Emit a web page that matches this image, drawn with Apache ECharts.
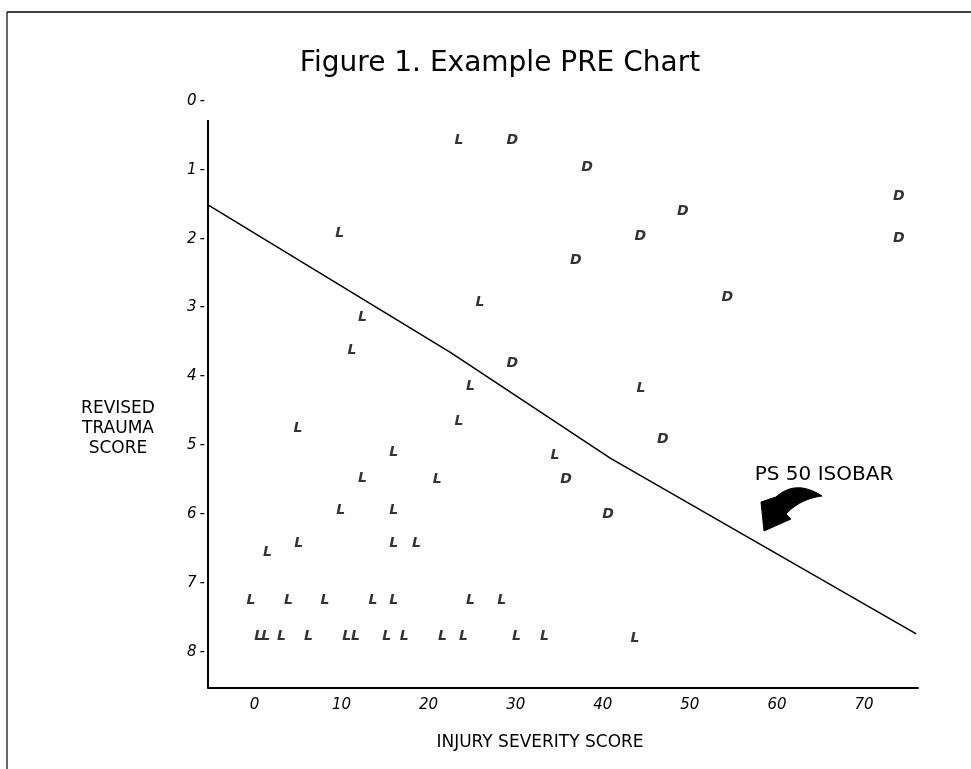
<!DOCTYPE html>
<html><head><meta charset="utf-8">
<script src="https://cdn.jsdelivr.net/npm/echarts@6/dist/echarts.min.js"></script>
<style>html,body{margin:0;padding:0;background:#fff}#c{width:971px;height:769px}</style>
</head><body><div id="c"></div>
<script>
// ---- data (Injury Severity Score = x, Revised Trauma Score = y) ----
const xTickValues = [0, 10, 20, 30, 40, 50, 60, 70];
const yTickValues = [0, 1, 2, 3, 4, 5, 6, 7, 8];

const livedISS = [23.5, 9.8, 25.9, 12.4, 11.2, 24.8, 44.4, 23.5, 5.0, 16.0, 34.5, 12.4, 21.0, 9.9, 16.0, 5.1, 1.5, 16.0, 18.6,
  -0.4, 3.9, 8.1, 13.6, 16.0, 24.8, 28.4,
  0.5, 1.3, 3.1, 6.2, 10.6, 11.6, 15.2, 17.2, 21.6, 24.0, 30.1, 33.3, 43.7];
const livedRTS = [0.57, 1.92, 2.92, 3.14, 3.62, 4.15, 4.17, 4.65, 4.75, 5.11, 5.14, 5.48, 5.49, 5.94, 5.94, 6.42, 6.55, 6.43, 6.43,
  7.25, 7.25, 7.25, 7.25, 7.25, 7.25, 7.25,
  7.78, 7.78, 7.78, 7.78, 7.78, 7.78, 7.78, 7.78, 7.78, 7.78, 7.78, 7.78, 7.80];

const diedISS = [29.6, 38.2, 74.0, 49.2, 44.3, 74.0, 36.9, 54.3, 29.6, 46.9, 35.8, 40.6];
const diedRTS = [0.57, 0.96, 1.39, 1.60, 1.96, 1.99, 2.32, 2.85, 3.81, 4.92, 5.50, 6.00];

const isobarISS = [-5.33, 22.5, 40.9, 76.0];
const isobarRTS = [1.51, 3.65, 5.19, 7.74];

const xMin = -5.33, xMax = 76.2, yMin = 0, yMax = 8.526, yLineTop = 0.276;

// ---- chart ----
const FONT = 'DejaVu Sans';
const INK = '#000000';
const pairs = (xs, ys) => xs.map((x, i) => [x, ys[i]]);
const letterLabel = (ch) => ({
  show: true, position: 'inside', formatter: ch,
  fontFamily: FONT, fontStyle: 'italic', fontWeight: 'bold', fontSize: 14, color: INK
});

const chart = echarts.init(document.getElementById('c'), null, {renderer: 'canvas'});
const option = {
  animation: false,
  backgroundColor: '#ffffff',
  title: [
    {text: 'Figure 1. Example PRE Chart', left: 495, top: 45, textAlign: 'center',
     textStyle: {fontFamily: FONT, fontSize: 28, fontWeight: 'normal', color: INK}},
    {text: 'REVISED\nTRAUMA\nSCORE', left: 113, top: 394, textAlign: 'center',
     textStyle: {fontFamily: FONT, fontSize: 17, lineHeight: 20, fontWeight: 'normal', color: INK}}
  ],
  grid: {left: 208, right: 53, top: 101, bottom: 81, containLabel: false},
  xAxis: {
    type: 'value', min: xMin, max: xMax, position: 'bottom',
    name: 'INJURY SEVERITY SCORE', nameLocation: 'middle', nameGap: 46,
    nameTextStyle: {fontFamily: FONT, fontSize: 17, color: INK, padding: [0, 46, 0, 0]},
    axisLine: {show: true, onZero: false, lineStyle: {color: INK, width: 2}},
    axisTick: {show: false},
    splitLine: {show: false},
    axisLabel: {customValues: xTickValues, margin: 10, fontFamily: FONT, fontStyle: 'italic', fontSize: 15, color: INK}
  },
  yAxis: {
    type: 'value', min: yMin, max: yMax, inverse: true,
    axisLine: {show: false},
    axisTick: {show: false},
    splitLine: {show: false},
    axisLabel: {customValues: yTickValues, margin: 3, fontFamily: FONT, fontStyle: 'italic', fontSize: 15, color: INK,
      formatter: v => v + '\u2009-'}
  },
  series: [
    {name: 'PS 50 isobar', type: 'line', data: pairs(isobarISS, isobarRTS), showSymbol: false, symbol: 'none',
     lineStyle: {color: INK, width: 1.5}, silent: true, z: 1},
    {name: 'Lived', type: 'scatter', data: pairs(livedISS, livedRTS), symbolSize: 6,
     itemStyle: {color: 'rgba(0,0,0,0)'}, label: letterLabel('L'), z: 3},
    {name: 'Died', type: 'scatter', data: pairs(diedISS, diedRTS), symbolSize: 6,
     itemStyle: {color: 'rgba(0,0,0,0)'}, label: letterLabel('D'), z: 3}
  ]
};
chart.setOption(option);

// curved annotation arrow outline (decoration): two quadratic curves + head
function quad(p0, p1, p2, n) {
  const pts = [];
  for (let i = 0; i <= n; i++) {
    const t = i / n, u = 1 - t;
    pts.push([u * u * p0[0] + 2 * u * t * p1[0] + t * t * p2[0], u * u * p0[1] + 2 * u * t * p1[1] + t * t * p2[1]]);
  }
  return pts;
}
const arrowPts = [].concat(
  quad([822, 496], [796, 479], [776, 497], 14),
  [[761, 502], [764, 531], [791, 519], [786, 514]],
  quad([786, 514], [800, 499], [822, 496], 14)
);

// y axis line and decorations, placed through the chart's own scales
const pTop = chart.convertToPixel({xAxisIndex: 0, yAxisIndex: 0}, [xMin, yLineTop]);
const pBot = chart.convertToPixel({xAxisIndex: 0, yAxisIndex: 0}, [xMin, yMax]);
chart.setOption({
  graphic: [
    {type: 'line', shape: {x1: 7, y1: 12, x2: 971, y2: 12}, style: {stroke: INK, lineWidth: 1.5}},
    {type: 'line', shape: {x1: 7, y1: 12, x2: 7, y2: 769}, style: {stroke: INK, lineWidth: 1.2}},
    {type: 'line', shape: {x1: pTop[0], y1: pTop[1], x2: pBot[0], y2: pBot[1]}, style: {stroke: INK, lineWidth: 2}},
    {type: 'text', x: 824, y: 475, style: {text: 'PS 50 ISOBAR', fontFamily: FONT, fontSize: 20, fill: INK,
      textAlign: 'center', textVerticalAlign: 'middle'}},
    {type: 'polygon', shape: {points: arrowPts}, style: {fill: INK, stroke: INK, lineWidth: 1}}
  ]
});
</script>
</body></html>
